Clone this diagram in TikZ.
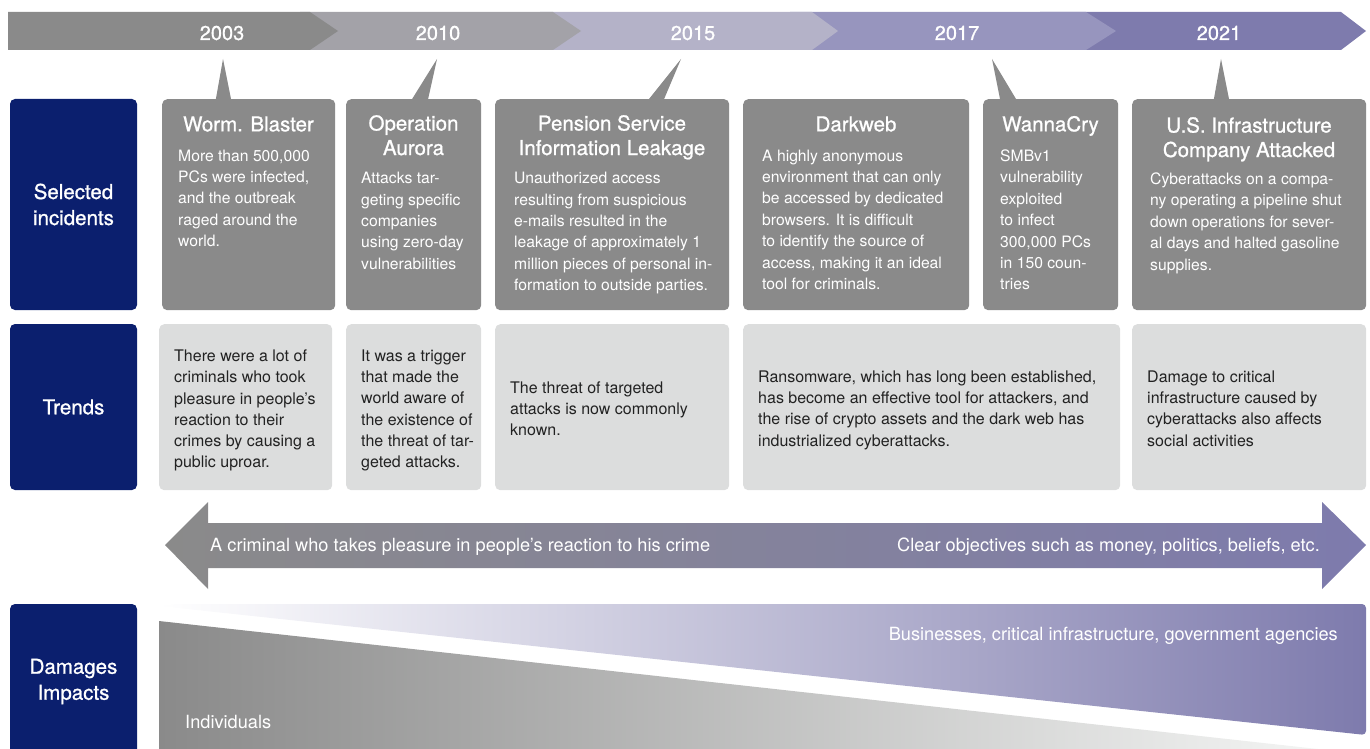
\documentclass[tikz,border=0pt]{standalone}
\usepackage{fontspec}
\setmainfont{TeX Gyre Heros}
\newfontfamily\mediumfont[FakeBold=0.9]{TeX Gyre Heros}
\usepackage{xcolor}
\definecolor{navy}{RGB}{11,31,110}
\definecolor{boxgray}{RGB}{138,138,138}
\definecolor{trendgray}{RGB}{220,221,221}
\definecolor{segA}{RGB}{138,138,138}
\definecolor{segB}{RGB}{163,162,168}
\definecolor{segC}{RGB}{180,178,200}
\definecolor{segD}{RGB}{151,149,190}
\definecolor{segE}{RGB}{126,123,173}
\definecolor{lavender}{RGB}{126,123,173}
\definecolor{midtone}{RGB}{156,154,170}
\definecolor{fadegray}{RGB}{246,247,246}
\definecolor{darktext}{RGB}{34,34,34}

\begin{document}
\begin{tikzpicture}[x=1pt,y=-1pt,
  sidebox/.style={fill=navy, text=white, rounded corners=5pt, minimum width=127pt, align=center, inner sep=0pt, font=\mediumfont\fontsize{20.5}{26}\selectfont},
  incident/.style={fill=boxgray, rounded corners=5pt, anchor=north west, inner sep=0pt},
  trend/.style={fill=trendgray, rounded corners=5pt, anchor=north west, inner sep=0pt},
  headline/.style={text=white, anchor=north, align=center, inner sep=0pt, font=\mediumfont\fontsize{20.5}{24.5}\selectfont, execute at begin node=\strut},
  body/.style={text=white, anchor=north west, align=left, inner sep=0pt, font=\fontsize{15.7}{21.4}\selectfont, execute at begin node=\strut},
  trendtext/.style={text=darktext, anchor=west, align=left, inner sep=0pt, font=\fontsize{16}{21.3}\selectfont, execute at begin node=\strut, execute at end node=\strut},
  year/.style={text=white, anchor=base, inner sep=0pt, font=\mediumfont\fontsize{20}{20}\selectfont},
  arrowtext/.style={text=white, inner sep=0pt, font=\fontsize{18.2}{20}\selectfont}
]
\useasboundingbox (0,0) rectangle (1370,749);

\fill[segE] (1040,12) -- (1341,12) -- (1366,31) -- (1341,50) -- (1040,50) -- cycle;
\fill[segD] (790,12) -- (1086,12) -- (1116,31) -- (1086,50) -- (790,50) -- cycle;
\fill[segC] (540,12) -- (812,12) -- (838,31) -- (812,50) -- (540,50) -- cycle;
\fill[segB] (300,12) -- (553,12) -- (581,31) -- (553,50) -- (300,50) -- cycle;
\fill[segA] (8,12) -- (310,12) -- (338,31) -- (310,50) -- (8,50) -- cycle;

\node[year] (y2003) at (222,40) {2003};
\node[year] (y2010) at (438,40) {2010};
\node[year] (y2015) at (693,40) {2015};
\node[year] (y2017) at (957,40) {2017};
\node[year] (y2021) at (1219,40) {2021};

\node[sidebox, minimum height=211pt] (selected) at (73.5,204.5) {Selected\\incidents};
\node[sidebox, minimum height=166pt] (trends) at (73.5,407) {Trends};
\node[sidebox, minimum height=155pt] (damages) at (73.5,681.5) {Damages\\Impacts};

\node[incident, minimum width=173pt, minimum height=211pt] (blaster) at (162,99) {};
\node[incident, minimum width=135pt, minimum height=211pt] (aurora) at (346,99) {};
\node[incident, minimum width=234pt, minimum height=211pt] (pension) at (495,99) {};
\node[incident, minimum width=226pt, minimum height=211pt] (darkweb) at (743,99) {};
\node[incident, minimum width=135pt, minimum height=211pt] (wannacry) at (983,99) {};
\node[incident, minimum width=234pt, minimum height=211pt] (usinfra) at (1132,99) {};

\coordinate (p2003) at (223,59);
\coordinate (p2010) at (437,59);
\coordinate (p2015) at (681,59);
\coordinate (p2017) at (992,59);
\coordinate (p2021) at (1221,59);
\fill[boxgray] (p2003) -- (215,104) -- (232,104) -- cycle;
\fill[boxgray] (p2010) -- (409,104) -- (427,104) -- cycle;
\fill[boxgray] (p2015) -- (645,104) -- (662,104) -- cycle;
\fill[boxgray] (p2017) -- (1001,104) -- (1019,104) -- cycle;
\fill[boxgray] (p2021) -- (1213,104) -- (1230,104) -- cycle;

\node[headline] (blasterT) at (248.5,114) {Worm. Blaster};
\node[headline] (auroraT) at (413.5,115) {Operation\\Aurora};
\node[headline] (pensionT) at (612,115) {Pension Service\\Information Leakage};
\node[headline] (darkwebT) at (856,114) {Darkweb};
\node[headline] (wannacryT) at (1050.5,114) {WannaCry};
\node[headline] (usinfraT) at (1249,117) {U.S. Infrastructure\\Company Attacked};

\node[body] (blasterB) at (178,149.5) {More than 500,000\\PCs were infected,\\and the outbreak\\raged around the\\world.};
\node[body] (auroraB) at (361,172) {Attacks tar-\\geting specific\\companies\\using zero-day\\vulnerabilities};
\node[body] (pensionB) at (514,172) {Unauthorized access\\resulting from suspicious\\e-mails resulted in the\\leakage of approximately 1\\million pieces of personal in-\\formation to outside parties.};
\node[body] (darkwebB) at (762,149.5) {A highly anonymous\\environment that can only\\be accessed by dedicated\\browsers. It is difficult\\to identify the source of\\access, making it an ideal\\tool for criminals.};
\node[body] (wannacryB) at (1000,149.5) {SMBv1\\vulnerability\\exploited\\to infect\\300,000 PCs\\in 150 coun-\\tries};
\node[body] (usinfraB) at (1150,172.5) {Cyberattacks on a compa-\\ny operating a pipeline shut\\down operations for sever-\\al days and halted gasoline\\supplies.};

\node[trend, minimum width=173pt, minimum height=166pt] (trend1) at (159,324) {};
\node[trend, minimum width=135pt, minimum height=166pt] (trend2) at (346,324) {};
\node[trend, minimum width=234pt, minimum height=166pt] (trend3) at (495,324) {};
\node[trend, minimum width=377pt, minimum height=166pt] (trend4) at (743,324) {};
\node[trend, minimum width=234pt, minimum height=166pt] (trend5) at (1132,324) {};

\node[trendtext] (trend1T) at (174,412) {There were a lot of\\criminals who took\\pleasure in people's\\reaction to their\\crimes by causing a\\public uproar.};
\node[trendtext] (trend2T) at (361,412) {It was a trigger\\that made the\\world aware of\\the existence of\\the threat of tar-\\geted attacks.};
\node[trendtext] (trend3T) at (510,412) {The threat of targeted\\attacks is now commonly\\known.};
\node[trendtext] (trend4T) at (758,411.5) {Ransomware, which has long been established,\\has become an effective tool for attackers, and\\the rise of crypto assets and the dark web has\\industrialized cyberattacks.};
\node[trendtext] (trend5T) at (1147,411.5) {Damage to critical\\infrastructure caused by\\cyberattacks also affects\\social activities};

\shade[left color=boxgray, middle color=midtone, right color=lavender] (165,545) -- (208,502) -- (208,523) -- (1322,523) -- (1322,502) -- (1366,545) -- (1322,589) -- (1322,568) -- (208,568) -- (208,589) -- cycle;
\node[arrowtext, anchor=base west] (oldmotive) at (210,551) {A criminal who takes pleasure in people's reaction to his crime};
\node[arrowtext, anchor=base east] (newmotive) at (1320,551) {Clear objectives such as money, politics, beliefs, etc.};

\shade[left color=white, right color=lavender, rounded corners=4pt] (175,604) -- (1366,604) -- (1366,735) -- (159,606) -- cycle;
\shade[left color=boxgray, right color=fadegray] (159,621) -- (1345,752) -- (159,752) -- cycle;
\node[arrowtext, anchor=base east] (bigtargets) at (1338,640) {Businesses, critical infrastructure, government agencies};
\node[arrowtext, anchor=base west] (individuals) at (185,728) {Individuals};

\end{tikzpicture}
\end{document}
